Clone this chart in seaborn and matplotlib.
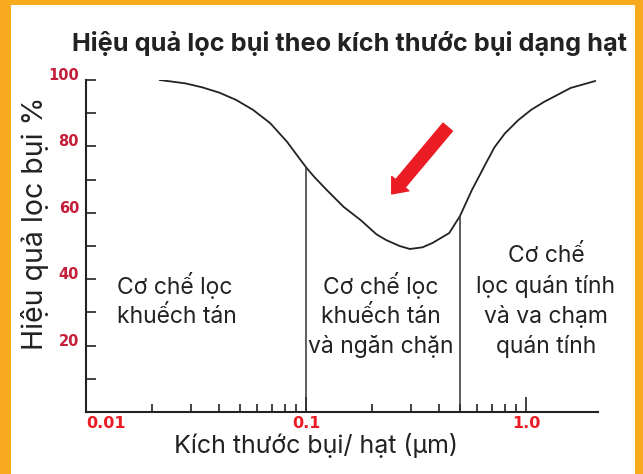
import numpy as np
import pandas as pd
import seaborn as sns
import matplotlib.pyplot as plt
import matplotlib.ticker as mticker
from matplotlib.patches import Rectangle

# du lieu doc tu hinh
kich_thuoc = [0.0216, 0.0282, 0.0337, 0.0403, 0.0481, 0.0574, 0.0687, 0.0819, 0.0944,
              0.1, 0.1086, 0.124, 0.148, 0.177, 0.209, 0.231, 0.266, 0.296, 0.338,
              0.375, 0.447, 0.5, 0.567, 0.609, 0.662, 0.719, 0.80, 0.92, 1.053,
              1.205, 1.592, 2.06]
hieu_qua = [100, 99.0, 97.8, 96.2, 94.0, 91.0, 87.0, 81.4, 75.9,
            73.7, 70.9, 66.9, 61.8, 57.8, 53.5, 51.8, 50.0, 49.1, 49.6,
            50.9, 53.9, 59.0, 66.9, 70.8, 75.4, 79.8, 83.9, 87.9, 91.0,
            93.4, 97.6, 99.7]

ranh_gioi = [0.1, 0.5]
dinh_ranh_gioi = [73.7, 59.0]

y_ticks = [0, 10, 20, 30, 40, 50, 60, 70, 80, 90, 100]
y_labels = ["", "", "20", "", "40", "", "60", "", "80", "", "100"]
x_ticks = [0.01, 0.1, 1.0]
x_labels = ["0.01", "0.1", "1.0"]
x_minor = [0.02, 0.03, 0.04, 0.05, 0.06, 0.07, 0.08, 0.09,
           0.2, 0.3, 0.4, 0.5, 0.6, 0.7, 0.8, 0.9]

vung_text = ["Cơ chế lọc\nkhuếch tán",
             "Cơ chế lọc\nkhuếch tán\nvà ngăn chặn",
             "Cơ chế\nlọc quán tính\nvà va chạm\nquán tính"]

tieu_de = "Hiệu quả lọc bụi theo kích thước bụi dạng hạt"
nhan_y = "Hiệu quả lọc bụi %"
nhan_x = "Kích thước bụi/ hạt (µm)"

sns.set_style("ticks")
plt.rcParams['font.family'] = ['Inter', 'DejaVu Sans']
hep = ["Liberation Sans Narrow", "DejaVu Sans"]

cam = "#F8AA1E"
do_dam = "#C41E3A"
do_tuoi = "#EC1C24"
den = "#222222"

W, H = 643, 474
fig = plt.figure(figsize=(W / 100, H / 100), dpi=100, facecolor=cam)
fig.patches.append(Rectangle((11 / W, 0), (635 - 11) / W, (H - 5) / H,
                             transform=fig.transFigure, facecolor="white",
                             edgecolor="none", zorder=-10))

ax = fig.add_axes([86 / W, (H - 412) / H, (598 - 86) / W, (412 - 80) / H])
ax.set_facecolor("none")

df = pd.DataFrame({"x": kich_thuoc, "y": hieu_qua})
sns.lineplot(data=df, x="x", y="y", ax=ax, color=den, linewidth=1.3)

ax.set_xscale("log")
ax.set_xlim(0.01, 2.12)
ax.set_ylim(0, 100)

ax.vlines(ranh_gioi, 0, dinh_ranh_gioi, color="#333333", linewidth=1.1)

for s in ["top", "right"]:
    ax.spines[s].set_visible(False)
for s in ["left", "bottom"]:
    ax.spines[s].set_linewidth(1.5)
    ax.spines[s].set_color(den)

ax.set_yticks(y_ticks, y_labels, fontweight="bold", family=hep,
              va="baseline", fontsize=10.5, color=do_dam)
ax.set_xticks(x_ticks, x_labels, fontweight="bold", family=hep,
              fontsize=11.5, color=do_tuoi)
ax.xaxis.set_minor_locator(mticker.FixedLocator(x_minor))
ax.xaxis.set_minor_formatter(mticker.NullFormatter())

ax.tick_params(axis="y", direction="in", length=7, width=1.2, color=den, pad=5)
ax.tick_params(axis="x", which="major", direction="in", length=11, width=1.2,
               color=den, pad=3)
ax.tick_params(axis="x", which="minor", direction="in", length=6, width=1.2,
               color=den)
ax.get_xticklabels()[0].set_horizontalalignment("left")
ax.set_xlabel("")
ax.set_ylabel("")

# mui ten do
ax.annotate("", xy=(0.245, 65.7), xytext=(0.44, 85.8),
            arrowprops=dict(arrowstyle="simple,head_length=0.6,head_width=1.0,tail_width=0.55",
                            color=do_tuoi, mutation_scale=16, shrinkA=0, shrinkB=0))

# chu trong cac vung (baseline = dong cuoi)
ax.text(0.01383, 26.8, vung_text[0], ha="left", va="baseline", fontsize=16.5,
        color=den, linespacing=1.4)
ax.text(0.219, 17.8, vung_text[1], ha="center", va="baseline", fontsize=16.5,
        color=den, linespacing=1.4, multialignment="center")
ax.text(1.23, 17.8, vung_text[2], ha="center", va="baseline", fontsize=16.5,
        color=den, linespacing=1.4, multialignment="center")

fig.text(349 / W, 1 - 44 / H, tieu_de, ha="center", va="center",
         fontsize=18.2, fontweight="bold", color=den)
fig.text(35 / W, 1 - 223 / H, nhan_y, ha="center", va="center", rotation=90,
         fontsize=20.5, color=den)
fig.text(316 / W, 1 - 446 / H, nhan_x, ha="center", va="center",
         fontsize=18, color=den)

fig.savefig("out.png", dpi=100, facecolor=cam)
